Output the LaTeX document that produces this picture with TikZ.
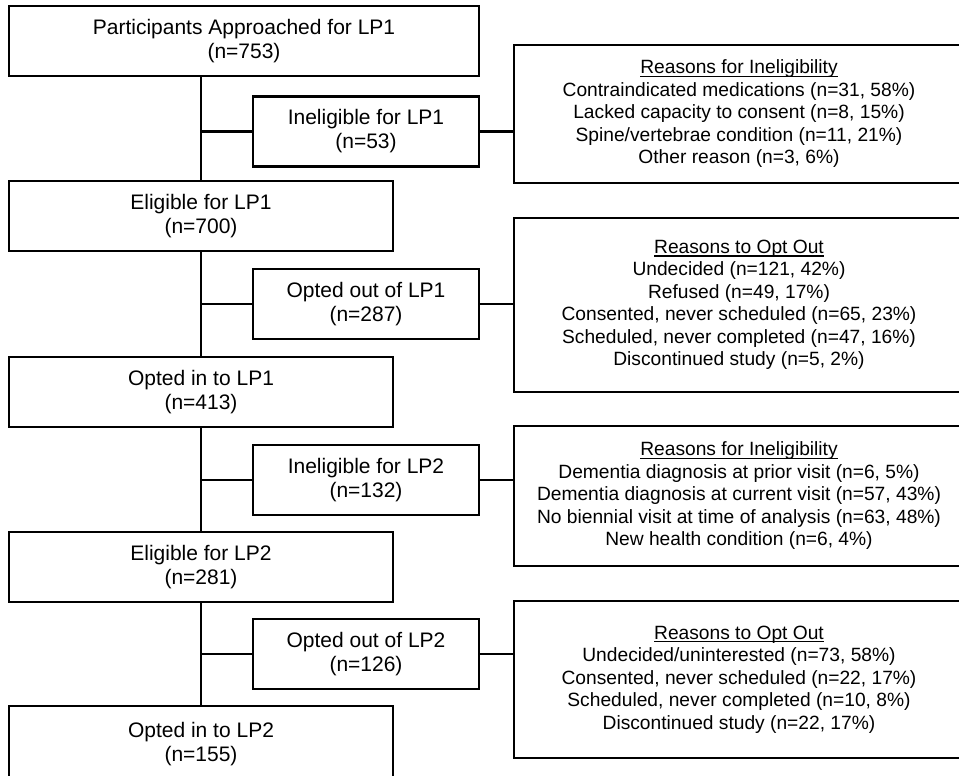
\documentclass[tikz,border=0pt]{standalone}
\usepackage{fontspec}
\setmainfont{Liberation Sans}
\usepackage{tikz}
\usetikzlibrary{positioning}
\newcommand{\headline}[1]{\setbox0\hbox{#1}\rlap{\vrule width\wd0 height -2pt depth 3.2pt}\box0}

\begin{document}
\begin{tikzpicture}[x=1pt, y=-1pt,
                    mainbox/.style={draw, line width=2.3pt, align=center, inner sep=0pt,
                                    font=\fontsize{21}{24}\selectfont, text=black},
                    wide/.style={mainbox, minimum width=384pt, minimum height=70pt},
                    side/.style={mainbox, minimum width=226pt, minimum height=70pt},
                    reasons/.style={draw, line width=2.3pt, align=center, inner sep=0pt,
                                    minimum width=450pt, font=\fontsize{19.2}{22.5}\selectfont, text=black},
                    link/.style={line width=2.3pt, black},
                   ]

\useasboundingbox (0,0) rectangle (959,776);
\clip (0,0) rectangle (959,776);

% left column
\node[mainbox, minimum width=470pt, minimum height=70pt] (approached) at (244,41) {Participants Approached for LP1\\(n=753)};
\node[side] (inelig1) at (366,131.5) {Ineligible for LP1\\(n=53)};
\node[wide] (elig1) at (201,216) {Eligible for LP1\\(n=700)};
\node[side] (optout1) at (366,304) {Opted out of LP1\\(n=287)};
\node[wide] (optin1) at (201,392) {Opted in to LP1\\(n=413)};
\node[side] (inelig2) at (366,480) {Ineligible for LP2\\(n=132)};
\node[wide] (elig2) at (201,567) {Eligible for LP2\\(n=281)};
\node[side] (optout2) at (366,654) {Opted out of LP2\\(n=126)};
\node[wide, minimum height=76pt] (optin2) at (201,744) {Opted in to LP2\\(n=155)};

% reasons
\node[reasons, minimum height=138pt] (why1) at (739,114) {\headline{Reasons for Ineligibility}\\
  Contraindicated medications (n=31, 58\%)\\
  Lacked capacity to consent (n=8, 15\%)\\
  Spine/vertebrae condition (n=11, 21\%)\\
  Other reason (n=3, 6\%)};
\node[reasons, minimum height=174pt] (why2) at (739,305) {\headline{Reasons to Opt Out}\\
  Undecided (n=121, 42\%)\\
  Refused (n=49, 17\%)\\
  Consented, never scheduled (n=65, 23\%)\\
  Scheduled, never completed (n=47, 16\%)\\
  Discontinued study (n=5, 2\%)};
\node[reasons, minimum height=140pt] (why3) at (739,496) {\headline{Reasons for Ineligibility}\\
  Dementia diagnosis at prior visit (n=6, 5\%)\\
  Dementia diagnosis at current visit (n=57, 43\%)\\
  No biennial visit at time of analysis (n=63, 48\%)\\
  New health condition (n=6, 4\%)};
\node[reasons, minimum height=157pt] (why4) at (739,679.5) {\headline{Reasons to Opt Out}\\
  Undecided/uninterested (n=73, 58\%)\\
  Consented, never scheduled (n=22, 17\%)\\
  Scheduled, never completed (n=10, 8\%)\\
  Discontinued study (n=22, 17\%)};

% trunk
\draw[link] (approached.south -| elig1.north) -- (elig1.north);
\draw[link] (elig1.south) -- (optin1.north);
\draw[link] (optin1.south) -- (elig2.north);
\draw[link] (elig2.south) -- (optin2.north);

% branches
\draw[link] (inelig1.west -| elig1.north) -- (inelig1.west);
\draw[link] (optout1.west -| elig1.north) -- (optout1.west);
\draw[link] (inelig2.west -| elig1.north) -- (inelig2.west);
\draw[link] (optout2.west -| elig1.north) -- (optout2.west);

\draw[link] (inelig1.east) -- (inelig1.east -| why1.west);
\draw[link] (optout1.east) -- (optout1.east -| why2.west);
\draw[link] (inelig2.east) -- (inelig2.east -| why3.west);
\draw[link] (optout2.east) -- (optout2.east -| why4.west);

\end{tikzpicture}
\end{document}
